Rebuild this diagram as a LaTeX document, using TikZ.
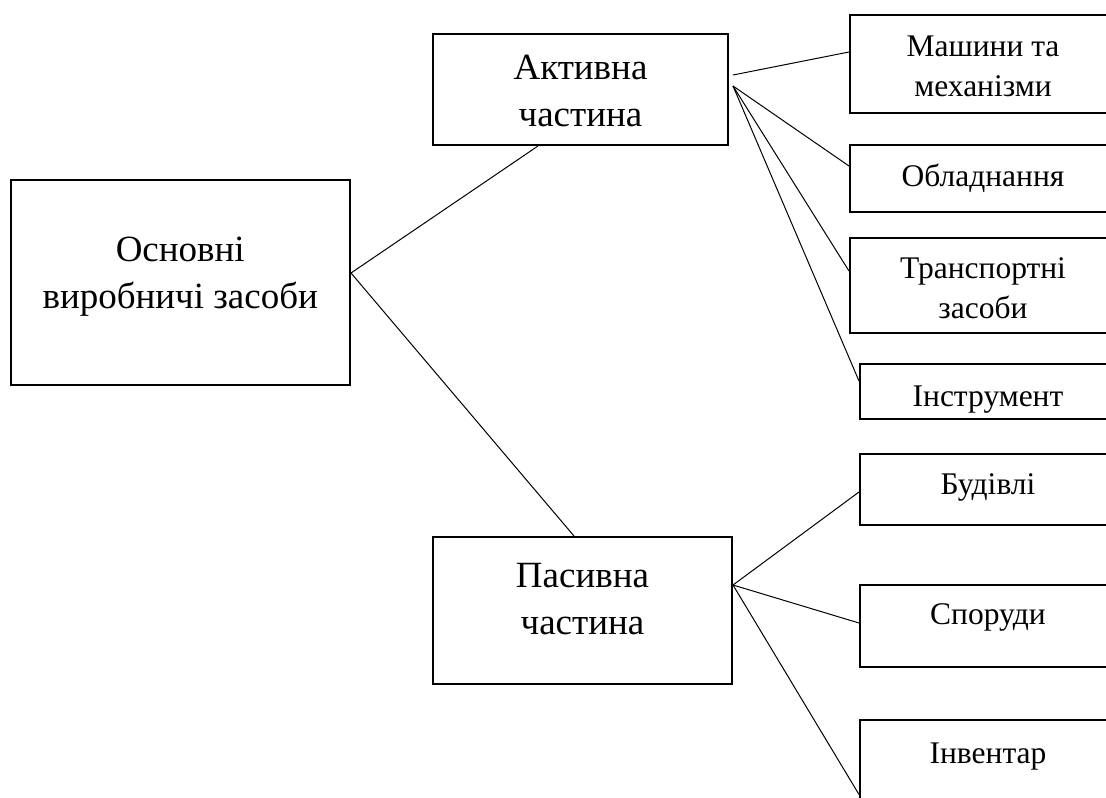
\documentclass[tikz,border=0pt]{standalone}
\usepackage{fontspec}
\setmainfont{Liberation Serif}
\begin{document}
\begin{tikzpicture}[x=1pt, y=-1pt, line width=1pt,
  box/.style = {draw, line width=2pt, anchor=north west, align=center, inner xsep=0pt, inner ysep=0pt},
  big/.style = {box, font=\fontsize{37}{47}\selectfont},
  small/.style = {box, font=\fontsize{31.5}{40}\selectfont, minimum width=266pt}]
  \useasboundingbox (0,0) rectangle (1106,798);
  \node[big, minimum width=339.5pt, text height=128pt, text depth=77pt] (main) at (9.5,179) {Основні\\виробничі засоби};
  \node[big, minimum width=295pt, text height=92pt, text depth=19pt] (act) at (432,33) {Активна\\частина};
  \node[big, minimum width=299pt, text height=97pt, text depth=50pt] (pas) at (432,536) {Пасивна\\частина};
  \node[small, text height=81.7pt, text depth=16.3pt] (mash) at (849,14) {Машини та\\механізми};
  \node[small, text height=41pt, text depth=26pt] (obl) at (849,144) {Обладнання};
  \node[small, text height=80pt, text depth=15pt] (trans) at (849,237) {Транспортні\\засоби};
  \node[small, minimum width=256pt, text height=42pt, text depth=13pt] (instr) at (859,363) {Інструмент};
  \node[small, minimum width=256pt, text height=40pt, text depth=31pt] (bud) at (859,453) {Будівлі};
  \node[small, minimum width=256pt, text height=39pt, text depth=43pt] (spor) at (859,584) {Споруди};
  \node[small, minimum width=256pt, text height=43pt, text depth=100pt] (inv) at (859,719) {Інвентар};
  \coordinate (mainHub) at ([yshift=9.5pt]main.east);
  \coordinate (actHubA) at ([xshift=4pt, yshift=14.5pt]act.east);
  \coordinate (actHubB) at ([xshift=4pt, yshift=3.5pt]act.east);
  \coordinate (pasHub) at ([yshift=25.5pt]pas.east);
  \draw (mainHub) -- ([xshift=-42.5pt]act.south);
  \draw (mainHub) -- ([xshift=-8.5pt]pas.north);
  \draw (actHubA) -- ([yshift=12pt]mash.west);
  \draw (actHubB) -- ([yshift=12.5pt]obl.west);
  \draw (actHubB) -- ([yshift=14.5pt]trans.west);
  \draw (actHubB) -- ([yshift=10.5pt]instr.west);
  \draw (pasHub) -- ([yshift=-2.5pt]bud.west);
  \draw (pasHub) -- ([yshift=3pt]spor.west);
  \draw (pasHub) -- ([yshift=-3pt]inv.west);
\end{tikzpicture}
\end{document}
